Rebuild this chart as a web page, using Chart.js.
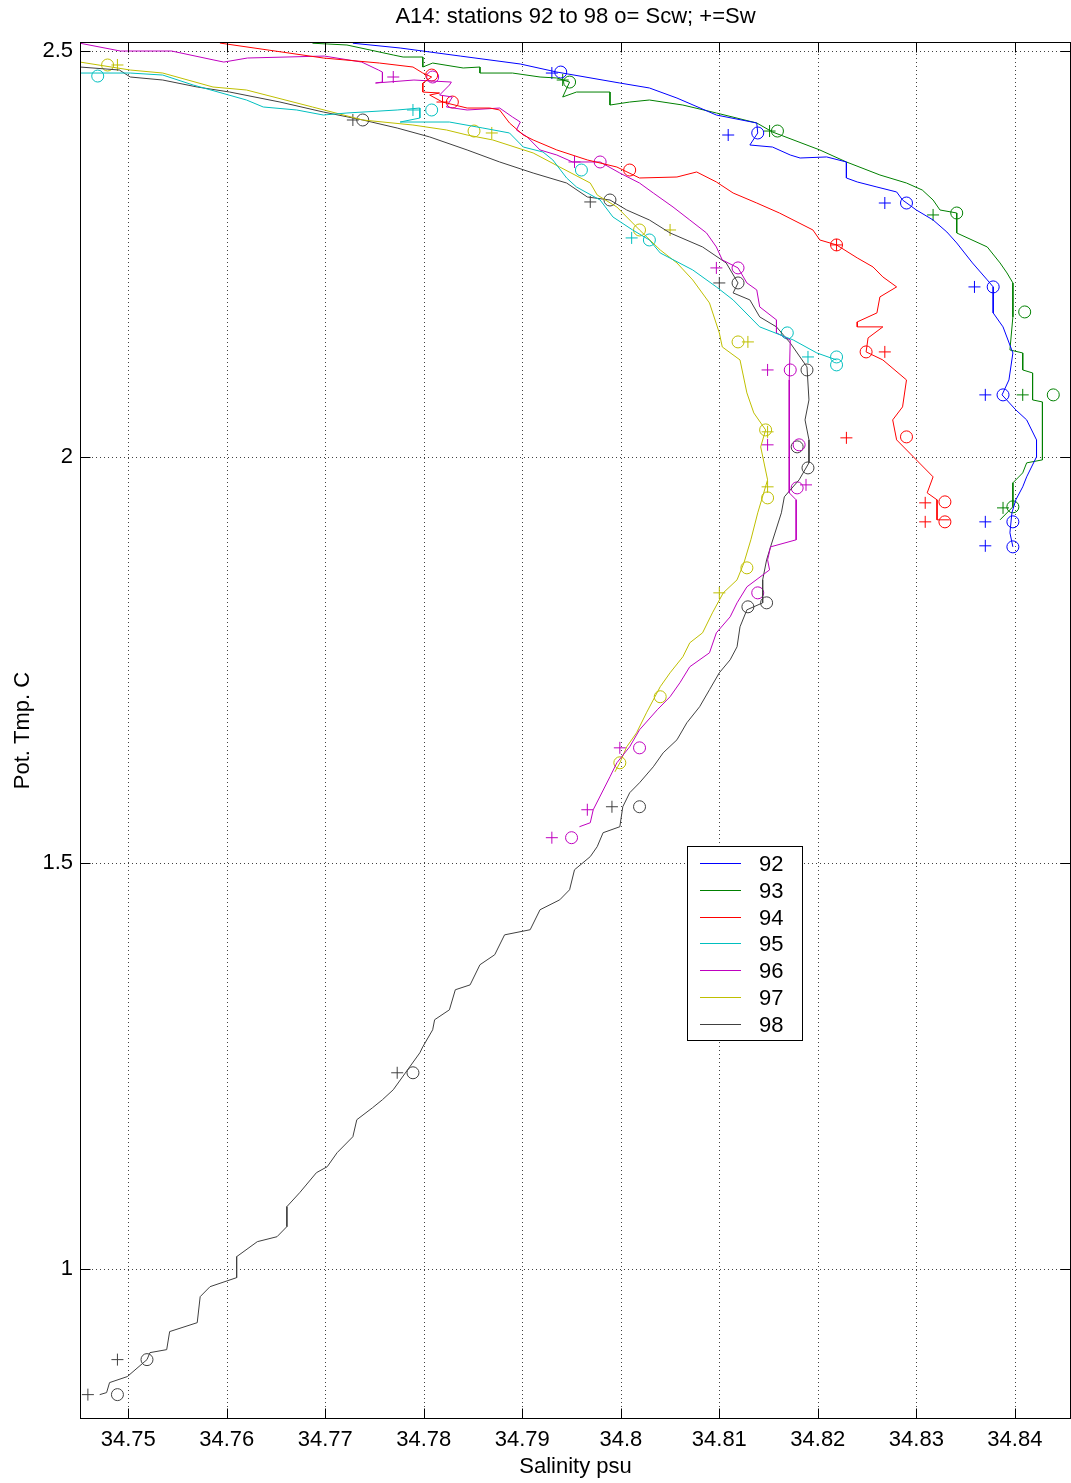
<!DOCTYPE html>
<html><head><meta charset="utf-8">
<script src="https://cdn.jsdelivr.net/npm/chart.js@4.4.0/dist/chart.umd.min.js"></script>
<style>html,body{margin:0;padding:0;background:#fff}#wrap{width:1071px;height:1483px}</style>
</head><body><div id="wrap"><canvas id="c" width="1071" height="1483"></canvas></div>
<script>
const titleText = "A14: stations 92 to 98 o= Scw; +=Sw";
const xLabel = "Salinity psu";
const yLabel = "Pot. Tmp. C";
const stations = ["92","93","94","95","96","97","98"];
const colors = ["#0000ff","#008000","#ff0000","#00bfbf","#bf00bf","#bfbf00","#404040"];
const xTicks = [34.75,34.76,34.77,34.78,34.79,34.8,34.81,34.82,34.83,34.84];
const yTicks = [1,1.5,2,2.5];
const xRange = [34.7451,34.8457];
const yRange = [0.8154,2.5105];

// station 92
const S92 = [34.7728,34.7776,34.7837,34.7898,34.7935,34.7999,34.8029,34.8057,34.8097,34.8138,34.8139,34.8131,34.8154,34.8172,34.8182,34.8209,34.8229,34.8229,34.8240,34.8260,34.8280,34.8286,34.8300,34.8317,34.8331,34.8341,34.8357,34.8372,34.8378,34.8378,34.8388,34.8398,34.8394,34.8387,34.8401,34.8412,34.8422,34.8422,34.8412,34.8408,34.8401,34.8397,34.8395,34.8398];
const T92 = [2.509,2.5031,2.4932,2.4834,2.4735,2.46,2.4539,2.4415,2.4206,2.4108,2.3985,2.3837,2.3812,2.3714,2.3677,2.369,2.3628,2.3431,2.3382,2.332,2.3259,2.316,2.3037,2.2914,2.2766,2.2631,2.2385,2.2176,2.209,2.177,2.1598,2.1277,2.0945,2.0761,2.0576,2.0453,2.0207,1.9998,1.9752,1.9629,1.9469,1.9309,1.9063,1.889];
const oS92 = [34.7939,34.8139,34.8290,34.8378,34.8388,34.8398,34.8398];
const oT92 = [2.4735,2.3985,2.3123,2.209,2.0761,1.9198,1.889];
const pS92 = [34.7930,34.8109,34.8268,34.8359,34.8370,34.8370,34.8370];
const pT92 = [2.4723,2.396,2.3123,2.209,2.0761,1.9198,1.8903];

// station 93
const S93 = [34.7687,34.7722,34.7769,34.7779,34.7799,34.7799,34.7809,34.7840,34.7857,34.7857,34.7890,34.7918,34.7935,34.7948,34.7941,34.7955,34.7989,34.7989,34.8009,34.8029,34.8063,34.8097,34.8138,34.8154,34.8202,34.8229,34.8263,34.8290,34.8306,34.8317,34.8324,34.8341,34.8341,34.8372,34.8385,34.8392,34.8398,34.8398,34.8395,34.8408,34.8408,34.8418,34.8418,34.8428,34.8428,34.8412,34.8408,34.8398,34.8398,34.8385];
const T93 = [2.509,2.5068,2.4945,2.492,2.492,2.4797,2.4846,2.4785,2.4797,2.4723,2.4723,2.4674,2.4662,2.4612,2.4428,2.4489,2.4489,2.4329,2.4366,2.4391,2.4329,2.4231,2.4108,2.3997,2.3776,2.3628,2.3468,2.3369,2.3283,2.316,2.3037,2.3,2.2754,2.2582,2.2385,2.2262,2.2139,2.1721,2.1314,2.1277,2.1068,2.1031,2.0699,2.0674,1.9961,1.9924,1.9801,1.9678,1.9383,1.9223];
const oS93 = [34.7948,34.8159,34.8341,34.8410,34.8439,34.8398];
const oT93 = [2.4612,2.4009,2.3,2.1782,2.0761,1.9383];
const pS93 = [34.7941,34.8151,34.8317,34.8408,34.8388];
const pT93 = [2.4637,2.4009,2.2976,2.0761,1.937];

// station 94
const S94 = [34.7593,34.7698,34.7755,34.7789,34.7799,34.7808,34.7799,34.7799,34.7816,34.7806,34.7819,34.7844,34.7867,34.7877,34.7887,34.7901,34.7911,34.7935,34.7966,34.7996,34.8019,34.8057,34.8077,34.8097,34.8114,34.8138,34.8161,34.8195,34.8202,34.8219,34.8240,34.8256,34.8266,34.8280,34.8263,34.8260,34.8240,34.8240,34.8266,34.8251,34.8249,34.8266,34.8290,34.8286,34.8276,34.8280,34.8300,34.8317,34.8311,34.8321,34.8321,34.8334];
const T94 = [2.5092,2.4908,2.4846,2.4797,2.4723,2.4674,2.46,2.4489,2.4477,2.4452,2.4366,2.4292,2.4292,2.4268,2.4108,2.396,2.3899,2.3776,2.3653,2.3566,2.3431,2.3443,2.3505,2.3382,2.3246,2.3123,2.3,2.2791,2.2668,2.2607,2.2447,2.2336,2.2213,2.209,2.1967,2.177,2.1659,2.1598,2.1598,2.1462,2.129,2.1191,2.0945,2.0613,2.0453,2.0207,1.9961,1.9752,1.9555,1.9469,1.9223,1.9223];
const oS94 = [34.7808,34.7829,34.8009,34.8219,34.8249,34.8290,34.8329,34.8329];
const oT94 = [2.4698,2.4366,2.3529,2.2607,2.129,2.0244,1.9444,1.9198];
const pS94 = [34.7819,34.8219,34.8268,34.8229,34.8309,34.8309];
const pT94 = [2.4366,2.2607,2.129,2.0232,1.9432,1.9198];

// station 95
const S95 = [34.7451,34.7502,34.7535,34.7566,34.7620,34.7637,34.7671,34.7698,34.7722,34.7773,34.7796,34.7796,34.7776,34.7826,34.7860,34.7887,34.7901,34.7921,34.7931,34.7945,34.7955,34.7979,34.7992,34.8012,34.8029,34.8040,34.8073,34.8097,34.8114,34.8141,34.8175,34.8199,34.8219];
const T95 = [2.4723,2.4723,2.4698,2.4575,2.4391,2.4305,2.4268,2.4206,2.4231,2.4268,2.4292,2.4169,2.412,2.412,2.4046,2.3985,2.3812,2.3751,2.3653,2.3431,2.332,2.316,2.2951,2.2791,2.2668,2.2508,2.2299,2.209,2.193,2.1598,2.1437,2.1277,2.1191];
const oS95 = [34.7469,34.7808,34.7960,34.8029,34.8169,34.8219,34.8219];
const oT95 = [2.4686,2.4268,2.3529,2.2668,2.1524,2.1228,2.113];
const pS95 = [34.7789,34.8011,34.8190];
const pT95 = [2.4268,2.2693,2.1228];

// station 96
const S96 = [34.7451,34.7492,34.7544,34.7587,34.7597,34.7621,34.7699,34.7737,34.7754,34.7758,34.7758,34.7751,34.7790,34.7828,34.7826,34.7816,34.7829,34.7823,34.7844,34.7877,34.7890,34.7898,34.7894,34.7905,34.7918,34.7935,34.7951,34.7979,34.7999,34.8019,34.8033,34.8053,34.8070,34.8087,34.8097,34.8103,34.8119,34.8128,34.8138,34.8141,34.8158,34.8158,34.8172,34.8171,34.8171,34.8171,34.8171,34.8178,34.8178,34.8152,34.8149,34.8151,34.8128,34.8118,34.8111,34.8097,34.8090,34.8070,34.8060,34.8050,34.8037,34.8019,34.8009,34.7996,34.7989,34.7972,34.7969,34.7958];
const T96 = [2.509,2.4994,2.4994,2.4883,2.4858,2.4908,2.4932,2.4858,2.476,2.4735,2.4612,2.46,2.4637,2.4612,2.4575,2.4452,2.4428,2.4305,2.4268,2.4292,2.4182,2.412,2.4022,2.3936,2.3776,2.3714,2.3628,2.3628,2.3492,2.3369,2.3246,2.3074,2.2914,2.2754,2.2582,2.2422,2.2324,2.2139,2.2053,2.1844,2.1684,2.1524,2.1437,2.0945,2.0453,1.9961,1.9555,1.9469,1.8977,1.889,1.873,1.8607,1.8398,1.8201,1.8029,1.7832,1.7586,1.7414,1.7217,1.7045,1.6884,1.6638,1.6429,1.6232,1.606,1.5654,1.5494,1.5445];
const oS96 = [34.7809,34.7979,34.8119,34.8172,34.8181,34.8179,34.8139,34.8019,34.7950];
const oT96 = [2.4674,2.3628,2.2324,2.1068,2.0146,1.9616,1.8324,1.6416,1.531];
const pS96 = [34.7769,34.7953,34.8097,34.8149,34.8149,34.8188,34.7999,34.7966,34.7930];
const pT96 = [2.4674,2.3628,2.2324,2.1068,2.0146,1.9653,1.6416,1.5654,1.531];

// station 97
const S97 = [34.7451,34.7502,34.7535,34.7586,34.7620,34.7687,34.7738,34.7789,34.7823,34.7844,34.7870,34.7911,34.7938,34.7969,34.7976,34.7996,34.8012,34.8019,34.8040,34.8057,34.8073,34.8090,34.8100,34.8103,34.8121,34.8128,34.8135,34.8147,34.8142,34.8149,34.8139,34.8132,34.8125,34.8118,34.8104,34.8093,34.8083,34.8070,34.8063,34.8050,34.8040,34.8026,34.8016,34.8006,34.7999,34.7994];
const T97 = [2.4858,2.476,2.4723,2.4551,2.4514,2.4305,2.4145,2.4083,2.4022,2.396,2.3899,2.3739,2.3566,2.3369,2.3222,2.3074,2.2877,2.2791,2.2545,2.2385,2.2176,2.1893,2.1524,2.1351,2.1191,2.0785,2.0539,2.033,2.0121,1.9715,1.9309,1.8977,1.8693,1.8484,1.8324,1.8078,1.7832,1.7709,1.7537,1.734,1.7168,1.6847,1.6601,1.6429,1.6232,1.612];
const oS97 = [34.7479,34.7851,34.8019,34.8119,34.8147,34.8149,34.8128,34.8040,34.7999];
const oT97 = [2.4822,2.4009,2.2791,2.1413,2.033,1.9493,1.8632,1.7045,1.6232];
const pS97 = [34.7489,34.7869,34.8050,34.8129,34.8149,34.8149,34.8100];
const pT97 = [2.4822,2.3985,2.2791,2.1413,2.0306,1.9629,1.8324];

// station 98
const S98 = [34.7451,34.7491,34.7502,34.7535,34.7570,34.7603,34.7654,34.7698,34.7738,34.7773,34.7806,34.7844,34.7877,34.7911,34.7945,34.7966,34.7989,34.8006,34.8029,34.8050,34.8083,34.8107,34.8119,34.8114,34.8131,34.8141,34.8158,34.8172,34.8189,34.8191,34.8187,34.8191,34.8191,34.8181,34.8166,34.8163,34.8152,34.8148,34.8144,34.8144,34.8128,34.8121,34.8118,34.8111,34.8100,34.8090,34.8080,34.8067,34.8057,34.8043,34.8033,34.8019,34.8009,34.8002,34.7999,34.7982,34.7976,34.7969,34.7953,34.7948,34.7938,34.7918,34.7908,34.7882,34.7872,34.7857,34.7847,34.7832,34.7826,34.7811,34.7809,34.7799,34.7796,34.7769,34.7758,34.7748,34.7732,34.7728,34.7712,34.7702,34.7691,34.7674,34.7661,34.7661,34.7651,34.7631,34.7610,34.7610,34.7583,34.7573,34.7570,34.7542,34.7539,34.7522,34.7519,34.7499,34.7481,34.7478,34.7471];
const T98 = [2.4797,2.476,2.4674,2.4637,2.4551,2.4489,2.4366,2.4243,2.4145,2.4046,2.3936,2.3776,2.3628,2.3492,2.3369,2.3197,2.316,2.3037,2.2914,2.2754,2.2582,2.2385,2.2139,2.2016,2.193,2.1721,2.1598,2.14,2.1105,2.0699,2.0453,2.0207,1.9924,1.9715,1.9506,1.9309,1.889,1.873,1.8484,1.8201,1.8115,1.7906,1.766,1.75,1.734,1.7131,1.6922,1.6724,1.6515,1.6355,1.6183,1.5986,1.5863,1.5691,1.5445,1.5371,1.5199,1.5077,1.4915,1.4669,1.4545,1.4423,1.4177,1.4114,1.3869,1.3746,1.3498,1.3438,1.3191,1.3069,1.2945,1.2736,1.2662,1.2207,1.2084,1.1986,1.1838,1.1629,1.1432,1.126,1.1186,1.094,1.0768,1.0522,1.0398,1.0337,1.0152,0.9894,0.9783,0.966,0.934,0.923,0.9008,0.8971,0.8885,0.8676,0.8602,0.8479,0.8454];
const oS98 = [34.7738,34.7989,34.8119,34.8189,34.8179,34.8190,34.8148,34.8129,34.8019,34.7789,34.7519,34.7489];
const oT98 = [2.4145,2.316,2.2139,2.1068,2.0121,1.9862,1.8201,1.8152,1.5691,1.2416,0.8885,0.8454];
const pS98 = [34.7728,34.7969,34.8100,34.7991,34.7773,34.7489,34.7459];
const pT98 = [2.4145,2.3136,2.2139,1.5691,1.2416,0.8885,0.8454];

const lineS = [S92,S93,S94,S95,S96,S97,S98];
const lineT = [T92,T93,T94,T95,T96,T97,T98];
const circS = [oS92,oS93,oS94,oS95,oS96,oS97,oS98];
const circT = [oT92,oT93,oT94,oT95,oT96,oT97,oT98];
const plusS = [pS92,pS93,pS94,pS95,pS96,pS97,pS98];
const plusT = [pT92,pT93,pT94,pT95,pT96,pT97,pT98];

const zip = (a,b) => a.map((v,i)=>({x:v,y:b[i]}));
const datasets = [];
stations.forEach((st,i)=>{
  datasets.push({label:st, data:zip(lineS[i],lineT[i]), showLine:true, borderColor:colors[i], backgroundColor:colors[i], borderWidth:1, pointRadius:0, tension:0, fill:false});
});
stations.forEach((st,i)=>{
  datasets.push({label:st+" Scw", data:zip(circS[i],circT[i]), showLine:false, pointStyle:'circle', pointRadius:6, borderColor:colors[i], backgroundColor:'rgba(0,0,0,0)', borderWidth:1});
  datasets.push({label:st+" Sw", data:zip(plusS[i],plusT[i]), showLine:false, pointStyle:'cross', pointRadius:6, borderColor:colors[i], backgroundColor:colors[i], borderWidth:1});
});

const FONT = "'Liberation Sans', Arial, Helvetica, sans-serif";

// stretch the plot area to the right edge of the canvas, as in the reference
const fullRight = {
  id:'fullRight',
  afterLayout(chart){
    const a = chart.chartArea, x = chart.scales.x;
    const R = chart.width;
    if (a.right < R) {
      a.right = R; a.width = a.right - a.left;
      x.right = R; x.width = x.right - x.left;
      x.configure();
      const t = chart.titleBlock;
      if (t) { t.right = R; t.width = t.right - t.left; }
    }
  }
};

const frame = {
  id:'frame',
  beforeDatasetsDraw(chart){
    const {ctx, chartArea:a, scales:{x,y}} = chart;
    ctx.save();
    ctx.strokeStyle = 'rgba(0,0,0,0.75)';
    ctx.lineWidth = 1;
    ctx.setLineDash([1,3]);
    xTicks.forEach(v=>{const p=Math.round(x.getPixelForValue(v))+0.5; ctx.beginPath(); ctx.moveTo(p,a.top); ctx.lineTo(p,a.bottom); ctx.stroke();});
    yTicks.forEach(v=>{const p=Math.round(y.getPixelForValue(v))+0.5; ctx.beginPath(); ctx.moveTo(a.left,p); ctx.lineTo(a.right,p); ctx.stroke();});
    ctx.restore();
  },
  afterDatasetsDraw(chart){
    const {ctx, chartArea:a, scales:{x,y}} = chart;
    ctx.save();
    ctx.strokeStyle = '#000';
    ctx.lineWidth = 1;
    ctx.setLineDash([]);
    const L=Math.round(a.left)+0.5, R=Math.round(a.right)-0.5, T=Math.round(a.top)+0.5, B=Math.round(a.bottom)-0.5;
    ctx.strokeRect(L,T,R-L,B-T);
    const tl = 10;
    xTicks.forEach(v=>{const p=Math.round(x.getPixelForValue(v))+0.5;
      ctx.beginPath(); ctx.moveTo(p,B); ctx.lineTo(p,B-tl); ctx.moveTo(p,T); ctx.lineTo(p,T+tl); ctx.stroke();});
    yTicks.forEach(v=>{const p=Math.round(y.getPixelForValue(v))+0.5;
      ctx.beginPath(); ctx.moveTo(L,p); ctx.lineTo(L+tl,p); ctx.moveTo(R,p); ctx.lineTo(R-tl,p); ctx.stroke();});
    // legend box
    const lx = a.left + 607, ly = a.top + 804, lw = 115, lh = 194;
    ctx.fillStyle = '#fff';
    ctx.fillRect(lx, ly, lw, lh);
    ctx.strokeRect(Math.round(lx)+0.5, Math.round(ly)+0.5, lw, lh);
    ctx.font = '22px ' + FONT;
    ctx.textBaseline = 'middle';
    ctx.textAlign = 'left';
    stations.forEach((st,i)=>{
      const yy = Math.round(ly + 17 + i*26.8)+0.5;
      ctx.strokeStyle = colors[i];
      ctx.beginPath(); ctx.moveTo(lx+13, yy); ctx.lineTo(lx+54, yy); ctx.stroke();
      ctx.fillStyle = '#000';
      ctx.fillText(st, lx+72, yy+1);
    });
    ctx.restore();
  }
};

Chart.defaults.font.family = FONT;
Chart.defaults.color = '#000';
new Chart(document.getElementById('c'), {
  type:'scatter',
  data:{datasets},
  options:{
    responsive:false, animation:false, devicePixelRatio:1,
    layout:{padding:{left:0,right:0,top:0,bottom:0}},
    plugins:{
      legend:{display:false},
      tooltip:{enabled:false},
      title:{display:true, text:titleText, fullSize:false, font:{size:22, weight:'normal'}, color:'#000', padding:{top:4,bottom:11.6}}
    },
    scales:{
      x:{type:'linear', position:'bottom', min:xRange[0], max:xRange[1],
        afterBuildTicks:(s)=>{s.ticks = xTicks.map(v=>({value:v}));},
        afterFit:(s)=>{s.height = 64; s.paddingLeft = 0; s.paddingRight = 0;},
        grid:{display:false, drawTicks:false}, border:{display:false},
        ticks:{font:{size:22}, color:'#000', padding:8, maxRotation:0, autoSkip:false, callback:(v)=>String(v)},
        title:{display:true, text:xLabel, font:{size:22}, color:'#000', padding:{top:0,bottom:3}}
      },
      y:{type:'linear', position:'left', min:yRange[0], max:yRange[1],
        afterBuildTicks:(s)=>{s.ticks = yTicks.map(v=>({value:v}));},
        afterFit:(s)=>{s.width = 80; s.paddingTop = 0; s.paddingBottom = 0;},
        grid:{display:false, drawTicks:false}, border:{display:false},
        ticks:{font:{size:22}, color:'#000', padding:7, autoSkip:false, callback:(v)=>String(v)},
        title:{display:true, text:yLabel, font:{size:22}, color:'#000', padding:{top:10,bottom:0}}
      }
    }
  },
  plugins:[fullRight, frame]
});
</script></body></html>
